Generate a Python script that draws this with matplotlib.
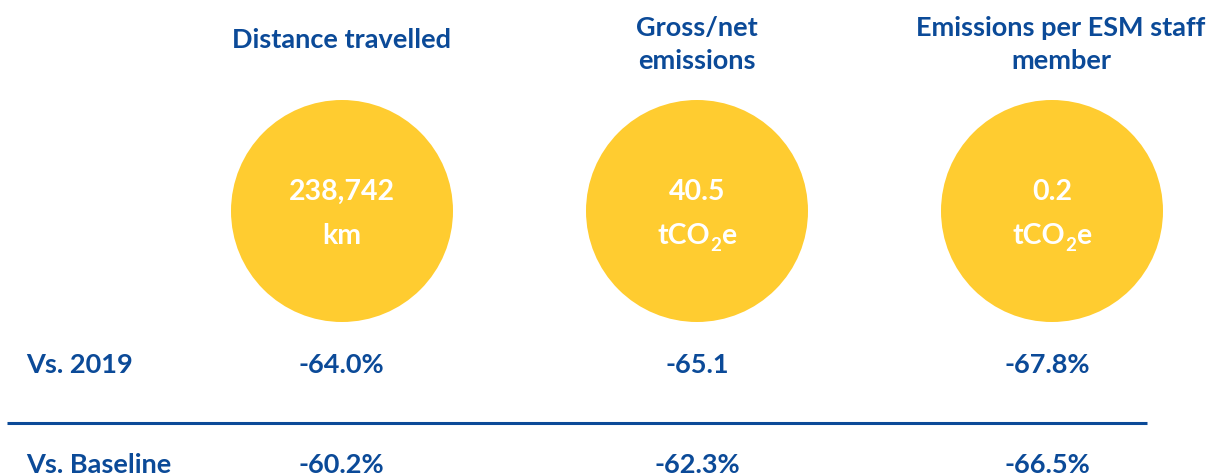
import matplotlib
matplotlib.use("Agg")
import matplotlib.pyplot as plt
from matplotlib.patches import Circle

plt.rcParams['font.family'] = ['Lato', 'DejaVu Sans']

# Data
titles = ["Distance travelled", "Gross/net\nemissions", "Emissions per ESM staff\nmember"]
values = ["238,742", "40.5", "0.2"]
# unit parts: (main, subscript, tail)
units = [("km", "", ""), ("tCO", "2", "e"), ("tCO", "2", "e")]
row_labels = ["Vs. 2019", "Vs. Baseline"]
vs_2019 = ["-64.0%", "-65.1", "-67.8%"]
vs_baseline = ["-60.2%", "-62.3%", "-66.5%"]

BLUE = "#0B4A98"
YELLOW = "#FFCC30"
FS_BLUE = 19.5
FS_VAL = 20.5

W, H = 1214, 477
fig = plt.figure(figsize=(W / 100, H / 100), dpi=100)
ax = fig.add_axes([0, 0, 1, 1])
ax.set_xlim(0, W)
ax.set_ylim(H, 0)
ax.axis("off")
renderer = fig.canvas.get_renderer()

centers = [342, 697, 1052]
title_x = [342, 697, 1061]
cy, r = 212, 111


def width_of(t):
    return t.get_window_extent(renderer).width


for i in range(3):
    cx = centers[i]
    ax.add_patch(Circle((cx, cy), r, color=YELLOW, lw=0))
    lines = titles[i].split("\n")
    ys = [40] if len(lines) == 1 else [28, 61]
    for t, y in zip(lines, ys):
        ax.text(title_x[i], y, t, ha="center", va="center", color=BLUE,
                fontsize=FS_BLUE, fontweight="bold")
    ax.text(cx, 192, values[i], ha="center", va="center", color="white",
            fontsize=FS_VAL, fontweight="bold")
    main, sub, tail = units[i]
    if not sub:
        ax.text(cx, 236, main, ha="center", va="center", color="white",
                fontsize=FS_VAL, fontweight="bold")
    else:
        base_y = 244  # baseline
        t1 = ax.text(0, base_y, main, ha="left", va="baseline", color="white",
                     fontsize=FS_VAL, fontweight="bold")
        t2 = ax.text(0, base_y + 7, sub, ha="left", va="baseline", color="white",
                     fontsize=FS_VAL * 0.66, fontweight="bold")
        t3 = ax.text(0, base_y, tail, ha="left", va="baseline", color="white",
                     fontsize=FS_VAL, fontweight="bold")
        w1, w2, w3 = width_of(t1), width_of(t2), width_of(t3)
        total = w1 + w2 + w3
        x0 = cx - total / 2
        t1.set_x(x0)
        t2.set_x(x0 + w1)
        t3.set_x(x0 + w1 + w2)

val_x = [341, 697, 1047]
for label, y, vals in zip(row_labels, [365, 465], [vs_2019, vs_baseline]):
    ax.text(26, y, label, ha="left", va="center", color=BLUE,
            fontsize=FS_BLUE, fontweight="bold")
    for x, v in zip(val_x, vals):
        ax.text(x, y, v, ha="center", va="center", color=BLUE,
                fontsize=FS_BLUE, fontweight="bold")

ax.plot([7, 1147], [424, 424], color=BLUE, lw=2.2, solid_capstyle="butt")

fig.savefig("out.png", dpi=100)
